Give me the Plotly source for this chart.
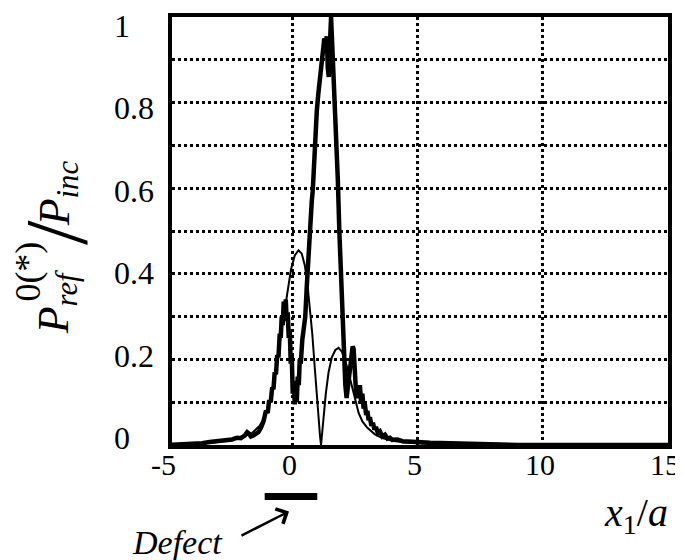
import plotly.graph_objects as go

# ---- data ----
thick_x = [-5.0, -4.5, -4.0, -3.6, -3.3, -3.0, -2.8, -2.6, -2.4, -2.2, -2.05, -1.9, -1.8, -1.72, -1.65,
           -1.55, -1.45, -1.35, -1.25, -1.15, -1.05, -0.98, -0.92, -0.86, -0.80, -0.75, -0.70, -0.65,
           -0.60, -0.55, -0.50, -0.46, -0.42, -0.38, -0.34, -0.30, -0.26, -0.22, -0.18, -0.14, -0.10,
           -0.06, -0.02, 0.02, 0.06, 0.10, 0.14, 0.18, 0.22, 0.26, 0.30, 0.34, 0.40, 0.46, 0.52, 0.58,
           0.64, 0.70, 0.74, 0.78, 0.82, 0.86, 0.92, 0.98, 1.04, 1.10, 1.16, 1.22, 1.28, 1.34, 1.38,
           1.42, 1.46, 1.50, 1.55, 1.60, 1.64, 1.70, 1.76, 1.82, 1.88, 1.93, 1.98, 2.03, 2.08, 2.12,
           2.17, 2.21, 2.26, 2.31, 2.36, 2.41, 2.45, 2.50, 2.55, 2.60, 2.65, 2.70, 2.75, 2.80, 2.85,
           2.90, 2.95, 3.00, 3.05, 3.10, 3.16, 3.22, 3.28, 3.34, 3.42, 3.50, 3.6, 3.7, 3.8, 3.9, 4.0,
           4.2, 4.4, 4.7, 5.0, 5.5, 6.0, 6.5, 7.0, 8.0, 9.0, 15.0]
thick_y = [0.0, 0.001, 0.002, 0.004, 0.007, 0.009, 0.012, 0.014, 0.013, 0.017, 0.016, 0.022, 0.030, 0.026, 0.020,
           0.022, 0.025, 0.030, 0.040, 0.055, 0.080, 0.075, 0.105, 0.100, 0.135, 0.130, 0.170, 0.165,
           0.210, 0.205, 0.260, 0.250, 0.300, 0.280, 0.335, 0.300, 0.340, 0.290, 0.310, 0.250, 0.270,
           0.190, 0.210, 0.120, 0.150, 0.095, 0.120, 0.100, 0.160, 0.140, 0.200, 0.190, 0.245, 0.280, 0.300, 0.370,
           0.440, 0.470, 0.520, 0.570, 0.595, 0.650, 0.720, 0.780, 0.820, 0.860, 0.900, 0.930, 0.950, 0.940, 0.955,
           0.880, 0.860, 0.930, 1.000, 0.930, 0.880, 0.800, 0.720, 0.620, 0.500, 0.410, 0.320, 0.240, 0.190, 0.140,
           0.110, 0.130, 0.160, 0.190, 0.200, 0.230, 0.225, 0.170, 0.120, 0.110, 0.130, 0.140, 0.100, 0.120, 0.085,
           0.095, 0.070, 0.080, 0.058, 0.065, 0.045, 0.052, 0.036, 0.042, 0.028, 0.032, 0.020, 0.024, 0.015, 0.017, 0.012,
           0.013, 0.009, 0.009, 0.007, 0.005, 0.004, 0.003, 0.002, 0.001, 0.0, 0.0]

thin_x = [-5.0, -4.0, -3.5, -3.0, -2.5, -2.0, -1.6, -1.3, -1.1, -0.9, -0.7, -0.5, -0.35, -0.2, -0.05,
          0.1, 0.25, 0.38, 0.5, 0.6, 0.7, 0.8, 0.9, 0.98, 1.05, 1.11, 1.15, 1.2, 1.26, 1.34, 1.45,
          1.58, 1.72, 1.85, 1.98, 2.1, 2.22, 2.35, 2.5, 2.65, 2.8, 3.0, 3.3, 3.6, 4.0, 4.5, 5.0,
          6.0, 7.0, 8.0, 15.0]
thin_y = [0.0, 0.002, 0.004, 0.007, 0.011, 0.018, 0.028, 0.045, 0.065, 0.100, 0.160, 0.240, 0.300, 0.360, 0.410,
          0.443, 0.455, 0.447, 0.420, 0.380, 0.320, 0.260, 0.180, 0.110, 0.060, 0.020, 0.0, 0.035, 0.075, 0.120, 0.170,
          0.205, 0.222, 0.227, 0.218, 0.200, 0.175, 0.145, 0.105, 0.075, 0.055, 0.040, 0.025, 0.016, 0.010, 0.006, 0.004,
          0.002, 0.001, 0.0, 0.0]

x_ticks = [-5, 0, 5, 10, 15]
x_tick_labels = ["-5", "0", "5", "10", "15"]
y_ticks = [0, 0.2, 0.4, 0.6, 0.8, 1]
y_tick_labels = ["0", "0.2", "0.4", "0.6", "0.8", "1"]
defect_span = [-1.1, 1.0]
x_range = [-4.8, 15]

SERIF = "Liberation Serif"
W, H = 683, 560
OFF = 8  # page body margin: the figure is drawn 8px right/down in the window
# target plot area in window pixels: x 172..668, y 13..445
L, T = 172 - OFF, 13 - OFF
R, B = W - (668 - OFF), H - (445 - OFF)
PW, PH = W - L - R, H - T - B


def px_x(px):
    return (px - OFF - L) / PW


def px_y(py):
    return (H - B - (py - OFF)) / PH


fig = go.Figure()
fig.add_trace(go.Scatter(x=thin_x, y=thin_y, mode="lines",
                         line=dict(color="black", width=2), showlegend=False))
fig.add_trace(go.Scatter(x=thick_x, y=thick_y, mode="lines",
                         line=dict(color="black", width=4.5), showlegend=False))

fig.update_layout(
    width=W, height=H, margin=dict(l=L, r=R, t=T, b=B),
    paper_bgcolor="white", plot_bgcolor="white",
    font=dict(family=SERIF, size=32, color="black"),
    xaxis=dict(range=x_range, tickvals=x_ticks, showticklabels=False,
               showgrid=True, gridcolor="black", griddash="3px,3px", gridwidth=2.5,
               zeroline=False, showline=True, linecolor="black", linewidth=3.5, mirror=True,
               ticks=""),
    yaxis=dict(range=[0, 1], dtick=0.1, showticklabels=False,
               showgrid=True, gridcolor="black", griddash="3px,3px", gridwidth=2.5,
               zeroline=False, showline=True, linecolor="black", linewidth=3.5, mirror=True,
               ticks=""),
)

# x tick labels (placed through the x-axis scale; "-5" lies just left of the visible range)
for v, t in zip(x_ticks, x_tick_labels):
    fig.add_annotation(x=(v - x_range[0]) / (x_range[1] - x_range[0]), y=px_y(465),
                       xref="paper", yref="paper", text=t, showarrow=False,
                       xanchor="center", yanchor="middle", xshift=-3,
                       font=dict(family=SERIF, size=30))

# y tick labels (left aligned, slightly compressed spacing as in the original)
lab_top, lab_bot = 22, 438
for v, t in zip(y_ticks, y_tick_labels):
    fig.add_annotation(x=px_x(112), y=px_y(lab_bot - v * (lab_bot - lab_top)), xref="paper", yref="paper",
                       text=t, showarrow=False, xanchor="left", yanchor="middle",
                       font=dict(family=SERIF, size=32))

# y-axis title pieces (rotated)
fig.add_annotation(x=px_x(56), y=px_y(301), xref="paper", yref="paper",
                   text="<i>P</i><sub><i>ref</i></sub>", textangle=-90, showarrow=False,
                   xanchor="center", yanchor="middle", font=dict(family=SERIF, size=44))
fig.add_annotation(x=px_x(28), y=px_y(270), xref="paper", yref="paper",
                   text="0(*)", textangle=-90, showarrow=False,
                   xanchor="center", yanchor="middle", font=dict(family=SERIF, size=36))
fig.add_annotation(x=px_x(57), y=px_y(231), xref="paper", yref="paper",
                   text="/", textangle=-90, showarrow=False,
                   xanchor="center", yanchor="middle", font=dict(family=SERIF, size=88))
fig.add_annotation(x=px_x(57), y=px_y(191), xref="paper", yref="paper",
                   text="<i>P</i><sub><i>inc</i></sub>", textangle=-90, showarrow=False,
                   xanchor="center", yanchor="middle", font=dict(family=SERIF, size=44))

# x-axis title
fig.add_annotation(x=px_x(636), y=px_y(516), xref="paper", yref="paper",
                   text="<i>x</i><sub>1</sub>/<i>a</i>", showarrow=False,
                   xanchor="center", yanchor="middle", font=dict(family=SERIF, size=40))

# defect marker
fig.add_shape(type="line", xref="x", yref="paper", x0=defect_span[0], x1=defect_span[1],
              y0=px_y(497), y1=px_y(497), line=dict(color="black", width=7))
fig.add_annotation(x=px_x(289), y=px_y(512), xref="paper", yref="paper", text="",
                   showarrow=True, ax=-49, ay=25, arrowhead=4, arrowsize=1.3, arrowwidth=2.5,
                   arrowcolor="black")
fig.add_annotation(x=px_x(177), y=px_y(543), xref="paper", yref="paper",
                   text="<i>Defect</i>", showarrow=False, xanchor="center", yanchor="middle",
                   font=dict(family=SERIF, size=34))

fig.write_html("out.html")
